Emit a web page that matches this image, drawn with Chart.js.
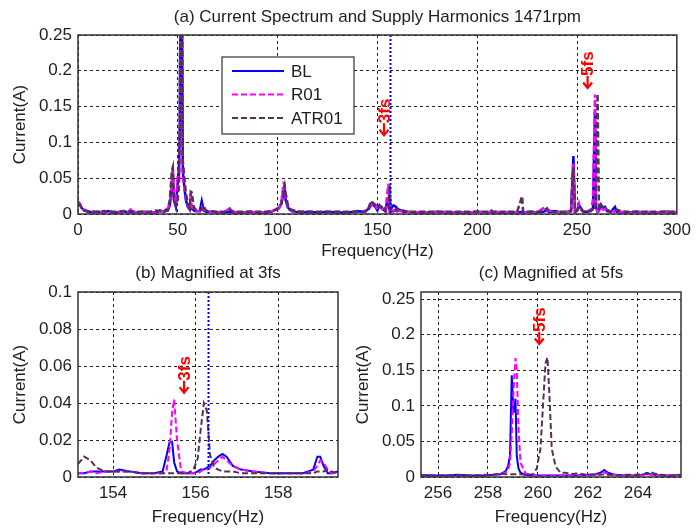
<!DOCTYPE html>
<html>
<head>
<meta charset="utf-8">
<title>Current Spectrum and Supply Harmonics 1471rpm</title>
<script src="https://cdn.jsdelivr.net/npm/chart.js@4.4.1/dist/chart.umd.min.js"></script>
<style>
    body { margin: 0; background: #fff; }
    #wrap { position: relative; width: 697px; height: 530px; }
    canvas { position: absolute; }
</style>
</head>
<body>
<div id="wrap">
    <canvas id="spectrum" width="697" height="262" style="left:0;top:0"></canvas>
    <canvas id="mag3" width="350" height="268" style="left:0;top:262px"></canvas>
    <canvas id="mag5" width="357" height="268" style="left:340px;top:262px"></canvas>
</div>
<script>
// ---- data ----
const seriesNames = ['BL', 'R01', 'ATR01'];
const markerFreq = 156.3;   // dotted blue line

// (a) full spectrum
const topFreq = [
    0, 1, 2, 3, 5, 8, 10, 13, 15, 18,
    20, 23, 25, 27, 28, 30, 33, 36, 39, 41,
    43, 44, 45, 46, 47, 47.5, 48, 49, 50, 50.5,
    51, 51.5, 52, 52.5, 53, 54, 55, 56, 56.5, 57,
    58, 59, 61, 62, 63, 64, 66, 70, 73, 76,
    78, 82, 86, 90, 94, 97, 99, 100, 101, 102,
    103, 103.5, 104, 105, 106, 107, 109, 112, 116, 120,
    125, 130, 135, 138, 140, 143, 145, 146, 147, 148,
    149, 150, 151, 152, 153, 154, 155, 155.5, 156.2, 156.6,
    157, 158, 159, 160, 161, 163, 165, 168, 172, 176,
    180, 184, 188, 192, 196, 200, 205, 207, 208, 212,
    216, 220, 222.5, 223, 227, 230, 233, 235, 236, 239,
    242, 245, 247, 248.2, 249, 250, 251, 252, 253, 255,
    257, 258, 259, 259.5, 260.3, 261, 262, 263, 264, 265,
    267, 269, 270, 272, 275, 280, 285, 290, 294, 297,
    300
];
const topBL = [
    .016, .012, .008, .005, .003, .002, .003, .002, .004, .002,
    .002, .004, .002, .003, .002, .002, .003, .002, .002, .005,
    .003, .006, .005, .012, .04, .058, .02, .01, .045, .05,
    .12, .42, .35, .06, .045, .02, .01, .006, .007, .008,
    .005, .004, .004, .018, .005, .003, .003, .002, .002, .003,
    .002, .002, .003, .002, .002, .003, .006, .007, .01, .015,
    .03, .035, .02, .01, .006, .004, .003, .002, .003, .002,
    .003, .002, .002, .003, .004, .003, .006, .008, .015, .012,
    .01, .005, .012, .008, .006, .004, .02, .019, .005, .012,
    .008, .012, .011, .004, .006, .003, .003, .002, .002, .002,
    .003, .002, .002, .002, .002, .003, .002, .003, .002, .002,
    .002, .002, .003, .002, .003, .002, .003, .005, .003, .004,
    .002, .003, .004, .081, .003, .004, .012, .008, .003, .003,
    .004, .008, .143, .01, .003, .005, .013, .008, .01, .004,
    .003, .01, .003, .002, .002, .003, .002, .002, .003, .002,
    .002
];
const topR01 = [
    .018, .014, .009, .006, .004, .003, .002, .003, .002, .002,
    .003, .002, .003, .008, .003, .002, .002, .003, .002, .003,
    .004, .005, .008, .015, .045, .065, .03, .015, .055, .03,
    .08, .4, .3, .06, .04, .025, .012, .005, .03, .01,
    .006, .005, .004, .01, .006, .004, .003, .003, .002, .008,
    .003, .002, .002, .003, .002, .004, .005, .006, .009, .02,
    .042, .04, .025, .012, .008, .004, .003, .003, .002, .002,
    .002, .003, .002, .002, .003, .004, .005, .01, .012, .016,
    .013, .006, .01, .009, .005, .003, .03, .042, .004, .01,
    .006, .003, .008, .005, .004, .004, .003, .002, .003, .002,
    .002, .003, .002, .002, .002, .003, .002, .004, .004, .002,
    .003, .002, .002, .002, .002, .002, .008, .004, .005, .002,
    .003, .002, .003, .07, .004, .005, .015, .006, .004, .004,
    .005, .02, .167, .01, .003, .004, .008, .006, .007, .005,
    .004, .003, .003, .003, .002, .002, .003, .002, .003, .004,
    .002
];
const topATR01 = [
    .015, .012, .008, .005, .004, .003, .003, .004, .003, .003,
    .003, .004, .003, .004, .003, .003, .003, .003, .005, .004,
    .003, .004, .006, .02, .06, .065, .025, .012, .02, .06,
    .12, .45, .4, .075, .06, .03, .015, .008, .031, .03,
    .01, .006, .005, .006, .012, .005, .004, .003, .003, .006,
    .003, .003, .003, .003, .003, .004, .006, .008, .01, .016,
    .035, .04, .03, .014, .007, .006, .004, .003, .003, .003,
    .003, .003, .003, .003, .003, .003, .004, .012, .018, .015,
    .012, .008, .011, .01, .012, .004, .004, .004, .04, .006,
    .004, .006, .005, .008, .004, .005, .003, .003, .003, .003,
    .003, .003, .003, .003, .003, .003, .003, .005, .003, .003,
    .003, .003, .025, .003, .003, .003, .004, .008, .003, .003,
    .003, .003, .004, .065, .003, .005, .01, .008, .004, .003,
    .006, .006, .005, .04, .168, .006, .012, .01, .008, .006,
    .003, .004, .006, .004, .003, .003, .003, .003, .003, .003,
    .003
];
const topXTicks = [0, 50, 100, 150, 200, 250, 300];
const topYTicks = [0, 0.05, 0.1, 0.15, 0.2, 0.25];

// (b) magnified at 3fs
const m3Freq = [
    153.15, 153.3, 153.45, 153.6, 153.8, 154.0, 154.15, 154.4, 154.7, 155.0,
    155.2, 155.3, 155.37, 155.43, 155.48, 155.55, 155.65, 155.8, 155.95, 156.05,
    156.12, 156.2, 156.27, 156.35, 156.45, 156.55, 156.65, 156.75, 156.9, 157.1,
    157.4, 157.8, 158.2, 158.6, 158.85, 158.95, 159.02, 159.1, 159.2, 159.3,
    159.45
];
const m3BL = [
    .002, .002, .003, .003, .003, .003, .004, .003, .002, .002,
    .003, .012, .019, .019, .008, .003, .002, .002, .002, .003,
    .004, .004, .005, .006, .009, .011, .0125, .011, .006, .004,
    .003, .002, .002, .002, .004, .011, .011, .006, .002, .002,
    .003
];
const m3R01 = [
    .002, .002, .003, .002, .003, .003, .003, .003, .002, .002,
    .002, .004, .015, .035, .042, .02, .003, .002, .002, .002,
    .003, .004, .004, .005, .007, .009, .011, .009, .006, .004,
    .003, .002, .002, .002, .003, .006, .009, .008, .004, .002,
    .002
];
const m3ATR01 = [
    .007, .011, .009, .005, .003, .003, .003, .003, .002, .002,
    .002, .002, .002, .002, .002, .002, .002, .002, .004, .01,
    .025, .04, .036, .012, .005, .004, .003, .003, .003, .002,
    .002, .002, .002, .002, .002, .003, .003, .003, .004, .003,
    .002
];
const m3XTicks = [154, 156, 158];
const m3YTicks = [0, 0.02, 0.04, 0.06, 0.08, 0.1];

// (c) magnified at 5fs
const m5Freq = [
    255.3, 255.8, 256.3, 256.8, 257.3, 257.8, 258.2, 258.5, 258.7, 258.8,
    258.88, 258.95, 259.02, 259.1, 259.15, 259.22, 259.3, 259.5, 259.8, 259.95,
    260.1, 260.2, 260.3, 260.38, 260.45, 260.55, 260.7, 260.9, 261.1, 261.3,
    261.6, 262.0, 262.3, 262.5, 262.65, 262.8, 263.1, 263.5, 263.9, 264.2,
    264.35, 264.5, 264.65, 264.9, 265.3, 265.7
];
const m5BL = [
    .003, .002, .002, .003, .002, .002, .003, .004, .008, .015,
    .03, .143, .09, .11, .03, .012, .006, .003, .002, .002,
    .002, .002, .002, .002, .002, .002, .002, .002, .002, .002,
    .002, .003, .004, .006, .01, .006, .003, .002, .002, .003,
    .006, .004, .003, .002, .002, .003
];
const m5R01 = [
    .002, .002, .002, .002, .002, .003, .003, .004, .006, .01,
    .02, .06, .12, .167, .15, .07, .02, .005, .003, .002,
    .002, .002, .002, .002, .002, .002, .002, .002, .002, .002,
    .002, .002, .003, .004, .007, .004, .003, .002, .002, .002,
    .004, .003, .002, .002, .002, .002
];
const m5ATR01 = [
    .002, .002, .002, .002, .002, .002, .003, .005, .004, .004,
    .004, .004, .004, .004, .004, .004, .004, .003, .004, .012,
    .04, .1, .16, .168, .12, .04, .015, .006, .006, .004,
    .005, .003, .003, .003, .004, .003, .002, .003, .003, .004,
    .004, .007, .005, .003, .002, .002
];
const m5XTicks = [256, 258, 260, 262, 264];
const m5YTicks = [0, 0.05, 0.1, 0.15, 0.2, 0.25];

// ---- styling ----
const FONT = '"Liberation Sans", Arial, sans-serif';
const TEXT = '#1e1e1e';
const lineStyles = [
    { color: '#0000ff', dash: [], order: 3 },
    { color: '#ff00ff', dash: [6, 3], order: 2 },
    { color: '#553355', dash: [6, 3], order: 1 }
];

const toPoints = (freq, vals) => freq.map((f, i) => ({ x: f, y: vals[i] }));

// draws titles, box, marker line, red fs labels and the legend
const decor = (o) => ({
    id: 'decor',
    afterDatasetsDraw(chart) {
        const { ctx, chartArea: a, scales: { x, y } } = chart;
        ctx.save();

        if (o.marker) {
            const px = Math.round(x.getPixelForValue(o.marker)) + 0.5;
            ctx.strokeStyle = '#0000ff';
            ctx.lineWidth = 2;
            ctx.setLineDash([2, 2]);
            ctx.beginPath();
            ctx.moveTo(px, a.top);
            ctx.lineTo(px, a.bottom);
            ctx.stroke();
            ctx.setLineDash([]);
        }

        // plot box
        ctx.strokeStyle = '#333';
        ctx.lineWidth = 1.5;
        ctx.strokeRect(a.left, a.top, a.right - a.left, a.bottom - a.top);

        // red harmonic labels
        ctx.fillStyle = '#ff0000';
        ctx.strokeStyle = '#ff0000';
        ctx.lineWidth = 2.2;
        o.notes.forEach(n => {
            const px = x.getPixelForValue(n.x);
            const py = y.getPixelForValue(n.y);
            ctx.beginPath();
            ctx.moveTo(px, py - 12);
            ctx.lineTo(px, py);
            ctx.moveTo(px - 4.5, py - 5.5);
            ctx.lineTo(px, py);
            ctx.lineTo(px + 4.5, py - 5.5);
            ctx.stroke();
            ctx.save();
            ctx.translate(px, py - 12);
            ctx.rotate(-Math.PI / 2);
            ctx.font = 'bold 17px ' + FONT;
            ctx.textAlign = 'left';
            ctx.textBaseline = 'middle';
            ctx.fillText(n.text, 0, 1);
            ctx.restore();
        });

        // titles
        ctx.fillStyle = TEXT;
        ctx.font = '17px ' + FONT;
        ctx.textAlign = 'center';
        ctx.textBaseline = 'middle';
        const cx = (a.left + a.right) / 2;
        ctx.fillText(o.title, cx, o.titleY);
        ctx.fillText('Frequency(Hz)', cx, a.bottom + o.xTitleGap);
        ctx.save();
        ctx.translate(o.yTitleX, (a.top + a.bottom) / 2);
        ctx.rotate(-Math.PI / 2);
        ctx.fillText('Current(A)', 0, 0);
        ctx.restore();

        // legend
        if (o.legend) {
            const L = o.legend;
            ctx.fillStyle = '#fff';
            ctx.fillRect(L.x, L.y, L.w, L.h);
            ctx.strokeStyle = '#333';
            ctx.lineWidth = 1.2;
            ctx.strokeRect(L.x, L.y, L.w, L.h);
            seriesNames.forEach((name, i) => {
                const ly = L.y + 14 + i * 23.5;
                ctx.strokeStyle = lineStyles[i].color;
                ctx.lineWidth = 2;
                ctx.setLineDash(lineStyles[i].dash);
                ctx.beginPath();
                ctx.moveTo(L.x + 10, ly);
                ctx.lineTo(L.x + 62, ly);
                ctx.stroke();
                ctx.setLineDash([]);
                ctx.fillStyle = TEXT;
                ctx.textAlign = 'left';
                ctx.fillText(name, L.x + 69, ly + 1);
            });
        }
        ctx.restore();
    }
});

const buildChart = (id, d) => {
    const data = [d.bl, d.r01, d.atr];
    return new Chart(document.getElementById(id), {
        type: 'line',
        data: {
            datasets: data.map((vals, i) => ({
                label: seriesNames[i],
                data: toPoints(d.freq, vals),
                borderColor: lineStyles[i].color,
                borderDash: lineStyles[i].dash,
                borderWidth: d.lineW || 2,
                pointRadius: 0,
                tension: 0,
                fill: false,
                order: lineStyles[i].order
            }))
        },
        options: {
            responsive: false,
            animation: false,
            events: [],
            layout: { padding: d.padding },
            plugins: {
                legend: { display: false },
                tooltip: { enabled: false },
                title: { display: false }
            },
            scales: {
                x: {
                    type: 'linear',
                    min: d.xMin,
                    max: d.xMax,
                    afterBuildTicks: s => { s.ticks = d.xTicks.map(v => ({ value: v })); },
                    afterFit: s => { s.height = d.xAxisH; },
                    grid: { color: '#222', lineWidth: 1, drawTicks: false },
                    border: { display: false, dash: [3, 3] },
                    ticks: { color: TEXT, font: { family: FONT, size: 17 }, padding: 6, maxRotation: 0, autoSkip: false, callback: v => String(v) }
                },
                y: {
                    type: 'linear',
                    min: 0,
                    max: d.yMax,
                    afterBuildTicks: s => { s.ticks = d.yTicks.map(v => ({ value: v })); },
                    afterFit: s => { s.width = d.yAxisW; },
                    grid: { color: '#222', lineWidth: 1, drawTicks: false },
                    border: { display: false, dash: [3, 3] },
                    ticks: { color: TEXT, font: { family: FONT, size: 17 }, padding: 6, autoSkip: false, callback: v => String(v) }
                }
            }
        },
        plugins: [decor(d.decor)]
    });
};

buildChart('spectrum', {
    freq: topFreq, bl: topBL, r01: topR01, atr: topATR01,
    xMin: 0, xMax: 300, yMax: 0.25, xTicks: topXTicks, yTicks: topYTicks,
    padding: { left: 0, right: 17, top: 35, bottom: 0 },
    yAxisW: 78, xAxisH: 48, lineW: 2.5,
    decor: {
        title: '(a) Current Spectrum and Supply Harmonics 1471rpm', titleY: 17,
        xTitleGap: 37, yTitleX: 20, marker: markerFreq,
        notes: [{ x: 153.3, y: 0.11, text: '3fs' }, { x: 255.3, y: 0.176, text: '5fs' }],
        legend: { x: 222, y: 57, w: 132, h: 77 }
    }
});

buildChart('mag3', {
    freq: m3Freq, bl: m3BL, r01: m3R01, atr: m3ATR01,
    xMin: 153.15, xMax: 159.45, yMax: 0.1, xTicks: m3XTicks, yTicks: m3YTicks,
    padding: { left: 0, right: 12, top: 30, bottom: 0 },
    yAxisW: 78, xAxisH: 53,
    decor: {
        title: '(b) Magnified at 3fs', titleY: 11,
        xTitleGap: 40, yTitleX: 20, marker: markerFreq,
        notes: [{ x: 155.72, y: 0.0456, text: '3fs' }]
    }
});

buildChart('mag5', {
    freq: m5Freq, bl: m5BL, r01: m5R01, atr: m5ATR01,
    xMin: 255.32, xMax: 265.72, yMax: 0.26, xTicks: m5XTicks, yTicks: m5YTicks,
    padding: { left: 0, right: 16, top: 30, bottom: 0 },
    yAxisW: 81, xAxisH: 53,
    decor: {
        title: '(c) Magnified at 5fs', titleY: 11,
        xTitleGap: 40, yTitleX: 23,
        notes: [{ x: 260.05, y: 0.187, text: '5fs' }]
    }
});
</script>
</body>
</html>
